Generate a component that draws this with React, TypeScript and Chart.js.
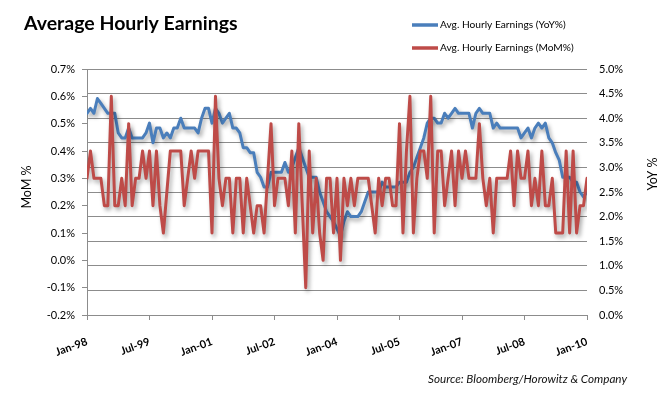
import React, { useEffect, useRef } from 'react';
import { Chart, registerables } from 'chart.js';

Chart.register(...registerables);

const TITLE = 'Average Hourly Earnings';
const SOURCE = 'Source: Bloomberg/Horowitz & Company';
const SERIES_NAMES = ['Avg. Hourly Earnings (YoY%)', 'Avg. Hourly Earnings (MoM%)'];
const LEFT_AXIS_TITLE = 'MoM %';
const RIGHT_AXIS_TITLE = 'YoY %';
const X_TICK_LABELS = ['Jan-98', 'Jul-99', 'Jan-01', 'Jul-02', 'Jan-04', 'Jul-05', 'Jan-07', 'Jul-08', 'Jan-10'];
const MONTHS_PER_TICK = 18;

// Monthly, Jan-98 .. Jan-10 (145 months)
const YOY = [
  4.1, 4.2, 4.1, 4.4, 4.3, 4.2, 4.1, 4.1, 4.1, 3.7, 3.6, 3.6, 3.8, 3.6, 3.6, 3.6, 3.6, 3.7, 3.9, 3.5,
  3.8, 3.8, 3.6, 3.7, 3.6, 3.8, 3.8, 4.0, 3.8, 3.8, 3.8, 3.8, 3.7, 4.0, 4.2, 4.2, 3.9, 4.2, 4.1, 3.9,
  4.0, 4.1, 3.8, 3.8, 3.7, 3.4, 3.4, 3.3, 3.3, 2.9, 2.8, 2.6, 2.6, 2.9, 2.9, 2.9, 2.9, 3.1, 2.9, 3.0,
  3.2, 3.4, 3.2, 3.0, 2.8, 2.8, 2.8, 2.5, 2.3, 2.1, 2.0, 1.9, 1.75, 1.6, 1.9, 2.1, 2.0, 2.0, 2.0, 2.1,
  2.3, 2.5, 2.5, 2.5, 2.5, 2.7, 2.6, 2.6, 2.6, 2.6, 2.7, 2.7, 2.7, 2.9, 3.0, 3.2, 3.4, 3.6, 3.9, 4.0,
  4.0, 3.9, 3.9, 4.1, 4.0, 4.1, 4.2, 4.1, 4.1, 4.1, 4.1, 3.8, 4.1, 4.2, 4.1, 4.1, 4.1, 3.8, 3.9, 3.8,
  3.8, 3.8, 3.8, 3.8, 3.8, 3.6, 3.7, 3.8, 3.6, 3.8, 3.9, 3.8, 3.9, 3.6, 3.5, 3.3, 3.15, 2.8, 2.8, 2.8,
  2.7, 2.7, 2.5, 2.4, 2.5,
];

const MOM = [
  0.3, 0.4, 0.3, 0.3, 0.3, 0.2, 0.2, 0.6, 0.2, 0.2, 0.3, 0.2, 0.5, 0.2, 0.3, 0.3, 0.4, 0.3, 0.4, 0.2,
  0.4, 0.2, 0.1, 0.25, 0.4, 0.4, 0.4, 0.4, 0.2, 0.3, 0.4, 0.3, 0.4, 0.4, 0.4, 0.4, 0.1, 0.6, 0.3, 0.2,
  0.3, 0.3, 0.1, 0.3, 0.3, 0.1, 0.3, 0.2, 0.1, 0.2, 0.2, 0.1, 0.3, 0.5, 0.2, 0.3, 0.3, 0.3, 0.2, 0.4,
  0.1, 0.5, 0.2, -0.1, 0.4, 0.1, 0.3, 0.1, 0.0, 0.3, 0.3, 0.1, 0.3, 0.0, 0.3, 0.2, 0.3, 0.2, 0.3, 0.3,
  0.3, 0.3, 0.2, 0.1, 0.3, 0.2, 0.3, 0.3, 0.2, 0.2, 0.5, 0.1, 0.4, 0.6, 0.1, 0.3, 0.4, 0.4, 0.3, 0.6,
  0.1, 0.4, 0.4, 0.2, 0.3, 0.4, 0.2, 0.4, 0.3, 0.4, 0.3, 0.3, 0.3, 0.5, 0.3, 0.2, 0.3, 0.1, 0.3, 0.3,
  0.3, 0.3, 0.4, 0.2, 0.4, 0.3, 0.3, 0.4, 0.2, 0.3, 0.2, 0.4, 0.2, 0.2, 0.3, 0.1, 0.1, 0.1, 0.4, 0.1,
  0.4, 0.1, 0.2, 0.2, 0.3,
];

const BLUE = '#4A7EBB';
const RED = '#BE4B48';
const GRID = '#8C8C8C';
const FONT = "Lato, 'Open Sans', sans-serif";

const pct = (v: any) => {
  const n = Number(v);
  return (Math.abs(n) < 1e-9 ? 0 : n).toFixed(1) + '%';
};

const shadowPlugin = {
  id: 'lineShadow',
  beforeDatasetDraw(chart: any) {
    const ctx = chart.ctx;
    ctx.save();
    ctx.shadowColor = 'rgba(0,0,0,0.35)';
    ctx.shadowBlur = 4;
    ctx.shadowOffsetX = 2;
    ctx.shadowOffsetY = 3;
  },
  afterDatasetDraw(chart: any) {
    chart.ctx.restore();
  },
};

const decorPlugin = {
  id: 'decor',
  afterDraw(chart: any) {
    const ctx = chart.ctx as CanvasRenderingContext2D;
    ctx.save();
    ctx.fillStyle = '#000';
    ctx.textAlign = 'left';
    ctx.textBaseline = 'alphabetic';
    ctx.font = `bold 19.5px ${FONT}`;
    ctx.fillText(TITLE, 24, 30);

    const colors = [BLUE, RED];
    for (let k = 0; k < 2; k++) {
      const y = 25 + k * 23;
      ctx.strokeStyle = colors[k];
      ctx.lineWidth = 3.5;
      ctx.beginPath();
      ctx.moveTo(412, y);
      ctx.lineTo(438, y);
      ctx.stroke();
      ctx.font = `10.2px ${FONT}`;
      ctx.textBaseline = 'middle';
      ctx.fillStyle = '#000';
      ctx.fillText(SERIES_NAMES[k], 440, y);
    }

    ctx.font = `12.5px ${FONT}`;
    ctx.textAlign = 'center';
    ctx.textBaseline = 'middle';
    ctx.save();
    ctx.translate(27, 187);
    ctx.rotate(-Math.PI / 2);
    ctx.fillText(LEFT_AXIS_TITLE, 0, 0);
    ctx.restore();
    ctx.save();
    ctx.translate(653, 174);
    ctx.rotate(-Math.PI / 2);
    ctx.fillText(RIGHT_AXIS_TITLE, 0, 0);
    ctx.restore();

    ctx.font = `italic 11.7px ${FONT}`;
    ctx.textAlign = 'left';
    ctx.textBaseline = 'alphabetic';
    ctx.fillStyle = '#111';
    ctx.fillText(SOURCE, 428, 383);
    ctx.restore();
  },
};

export default function App() {
  const ref = useRef<HTMLCanvasElement>(null);
  useEffect(() => {
    if (!ref.current) return;
    const chart = new Chart(ref.current, {
      type: 'line',
      data: {
        datasets: [
          {
            label: SERIES_NAMES[0],
            data: YOY.map((v, i) => ({ x: i, y: v })),
            borderColor: BLUE,
            borderWidth: 3,
            pointRadius: 0,
            tension: 0,
            borderJoinStyle: 'round',
            borderCapStyle: 'round',
            yAxisID: 'y1',
            order: 1,
          },
          {
            label: SERIES_NAMES[1],
            data: MOM.map((v, i) => ({ x: i, y: v })),
            borderColor: RED,
            borderWidth: 3,
            pointRadius: 0,
            tension: 0,
            borderJoinStyle: 'round',
            borderCapStyle: 'round',
            yAxisID: 'y',
            order: 0,
          },
        ],
      },
      options: {
        responsive: false,
        animation: false,
        layout: { padding: { top: 69, left: 0, right: 0, bottom: 0 } },
        plugins: {
          legend: { display: false },
          title: { display: false },
          tooltip: { enabled: false },
        },
        scales: {
          x: {
            type: 'linear',
            min: 0,
            max: (YOY.length - 1),
            ticks: {
              stepSize: MONTHS_PER_TICK,
              autoSkip: false,
              minRotation: 20,
              maxRotation: 20,
              padding: 15,
              color: '#000',
              font: { family: FONT, size: 11, weight: 'bold' },
              callback: (v: any) => X_TICK_LABELS[Math.round(Number(v) / MONTHS_PER_TICK)] ?? '',
            },
            grid: { drawOnChartArea: false, tickLength: 5, color: GRID },
            border: { color: GRID },
            afterFit: (s: any) => { s.height = 79; },
          },
          y: {
            type: 'linear',
            position: 'left',
            min: -0.2,
            max: 0.7,
            ticks: {
              stepSize: 0.1,
              padding: 7,
              color: '#000',
              font: { family: FONT, size: 11 },
              callback: pct,
            },
            grid: { drawOnChartArea: false, tickLength: 5, color: GRID },
            border: { color: GRID },
            afterFit: (s: any) => { s.width = 87; },
          },
          y1: {
            type: 'linear',
            position: 'right',
            min: 0,
            max: 5,
            ticks: {
              stepSize: 0.5,
              padding: 12,
              color: '#000',
              font: { family: FONT, size: 11 },
              callback: pct,
            },
            grid: { drawOnChartArea: true, drawTicks: false, color: GRID },
            border: { display: false },
            afterFit: (s: any) => { s.width = 81; },
          },
        },
      },
      plugins: [shadowPlugin, decorPlugin],
    } as any);
    return () => chart.destroy();
  }, []);
  return (
    <div style={{ position: 'absolute', left: 0, top: 0, width: 668, height: 394, background: '#fff' }}>
      <canvas ref={ref} width={668} height={394} style={{ display: 'block' }} />
    </div>
  );
}
